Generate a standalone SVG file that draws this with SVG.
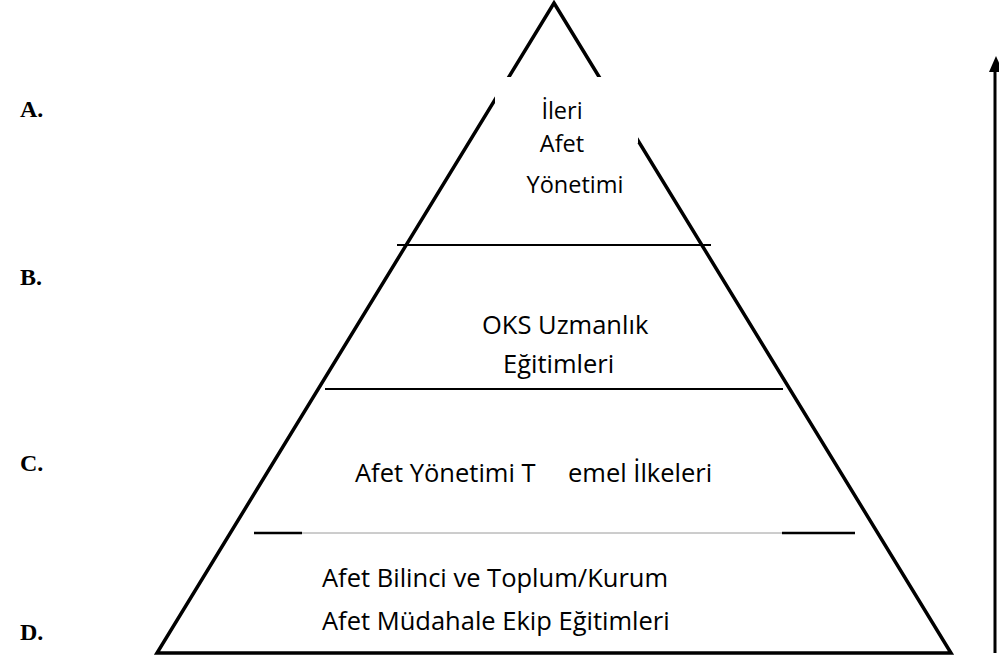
<svg xmlns="http://www.w3.org/2000/svg" width="999" height="659" viewBox="0 0 999 659">
  <style>
    .edge { fill: none; stroke: #000; stroke-width: 3.5; stroke-linejoin: miter; }
    .tier { stroke: #000; stroke-width: 2; }
    .tier-thick { stroke: #000; stroke-width: 2.5; }
    .tier-faint { stroke: #9a9a9a; stroke-width: 1; }
    .label { font-family: "Open Sans", "Noto Sans", sans-serif; font-size: 25.5px; fill: #000; }
    .top { font-size: 23.5px; text-anchor: middle; }
    .level { font-family: "Liberation Serif", "Times New Roman", serif; font-size: 24px; font-weight: bold; fill: #000; }
  </style>
  <rect width="999" height="659" fill="#fff"/>

  <!-- pyramid outline -->
  <g id="pyramid">
    <polygon class="edge" points="554,3 951,653 157,653"/>
    <!-- white box behind the top label -->
    <rect x="495" y="77" width="143" height="66" fill="#fff"/>
  </g>

  <!-- tier dividers and the upward arrow -->
  <g id="connectors">
    <line class="tier" x1="397" y1="245" x2="711" y2="245"/>
    <line class="tier" x1="325" y1="389" x2="783" y2="389"/>
    <line class="tier-faint" x1="301" y1="533" x2="783" y2="533"/>
    <line class="tier-thick" x1="254" y1="533" x2="302" y2="533"/>
    <line class="tier-thick" x1="782" y1="533" x2="855" y2="533"/>
    <line x1="995" y1="653" x2="995" y2="68" stroke="#000" stroke-width="3"/>
    <polygon points="996,56 989,72 1003,72" fill="#000"/>
  </g>

  <g id="tier-a">
    <text class="label top" x="562" y="119">İleri</text>
    <text class="label top" x="562" y="152">Afet</text>
    <text class="label top" x="575" y="193">Yönetimi</text>
  </g>
  <g id="tier-b">
    <text class="label" x="482" y="334">OKS Uzmanlık</text>
    <text class="label" x="503" y="373">Eğitimleri</text>
  </g>
  <g id="tier-c">
    <text class="label" x="355" y="482">Afet Yönetimi T</text>
    <text class="label" x="568" y="482">emel İlkeleri</text>
  </g>
  <g id="tier-d">
    <text class="label" x="322" y="587">Afet Bilinci ve Toplum/Kurum</text>
    <text class="label" x="322" y="630">Afet Müdahale Ekip Eğitimleri</text>
  </g>

  <g id="levels">
    <text class="level" x="20" y="117">A.</text>
    <text class="level" x="20" y="285">B.</text>
    <text class="level" x="20" y="471">C.</text>
    <text class="level" x="20" y="640">D.</text>
  </g>
</svg>
